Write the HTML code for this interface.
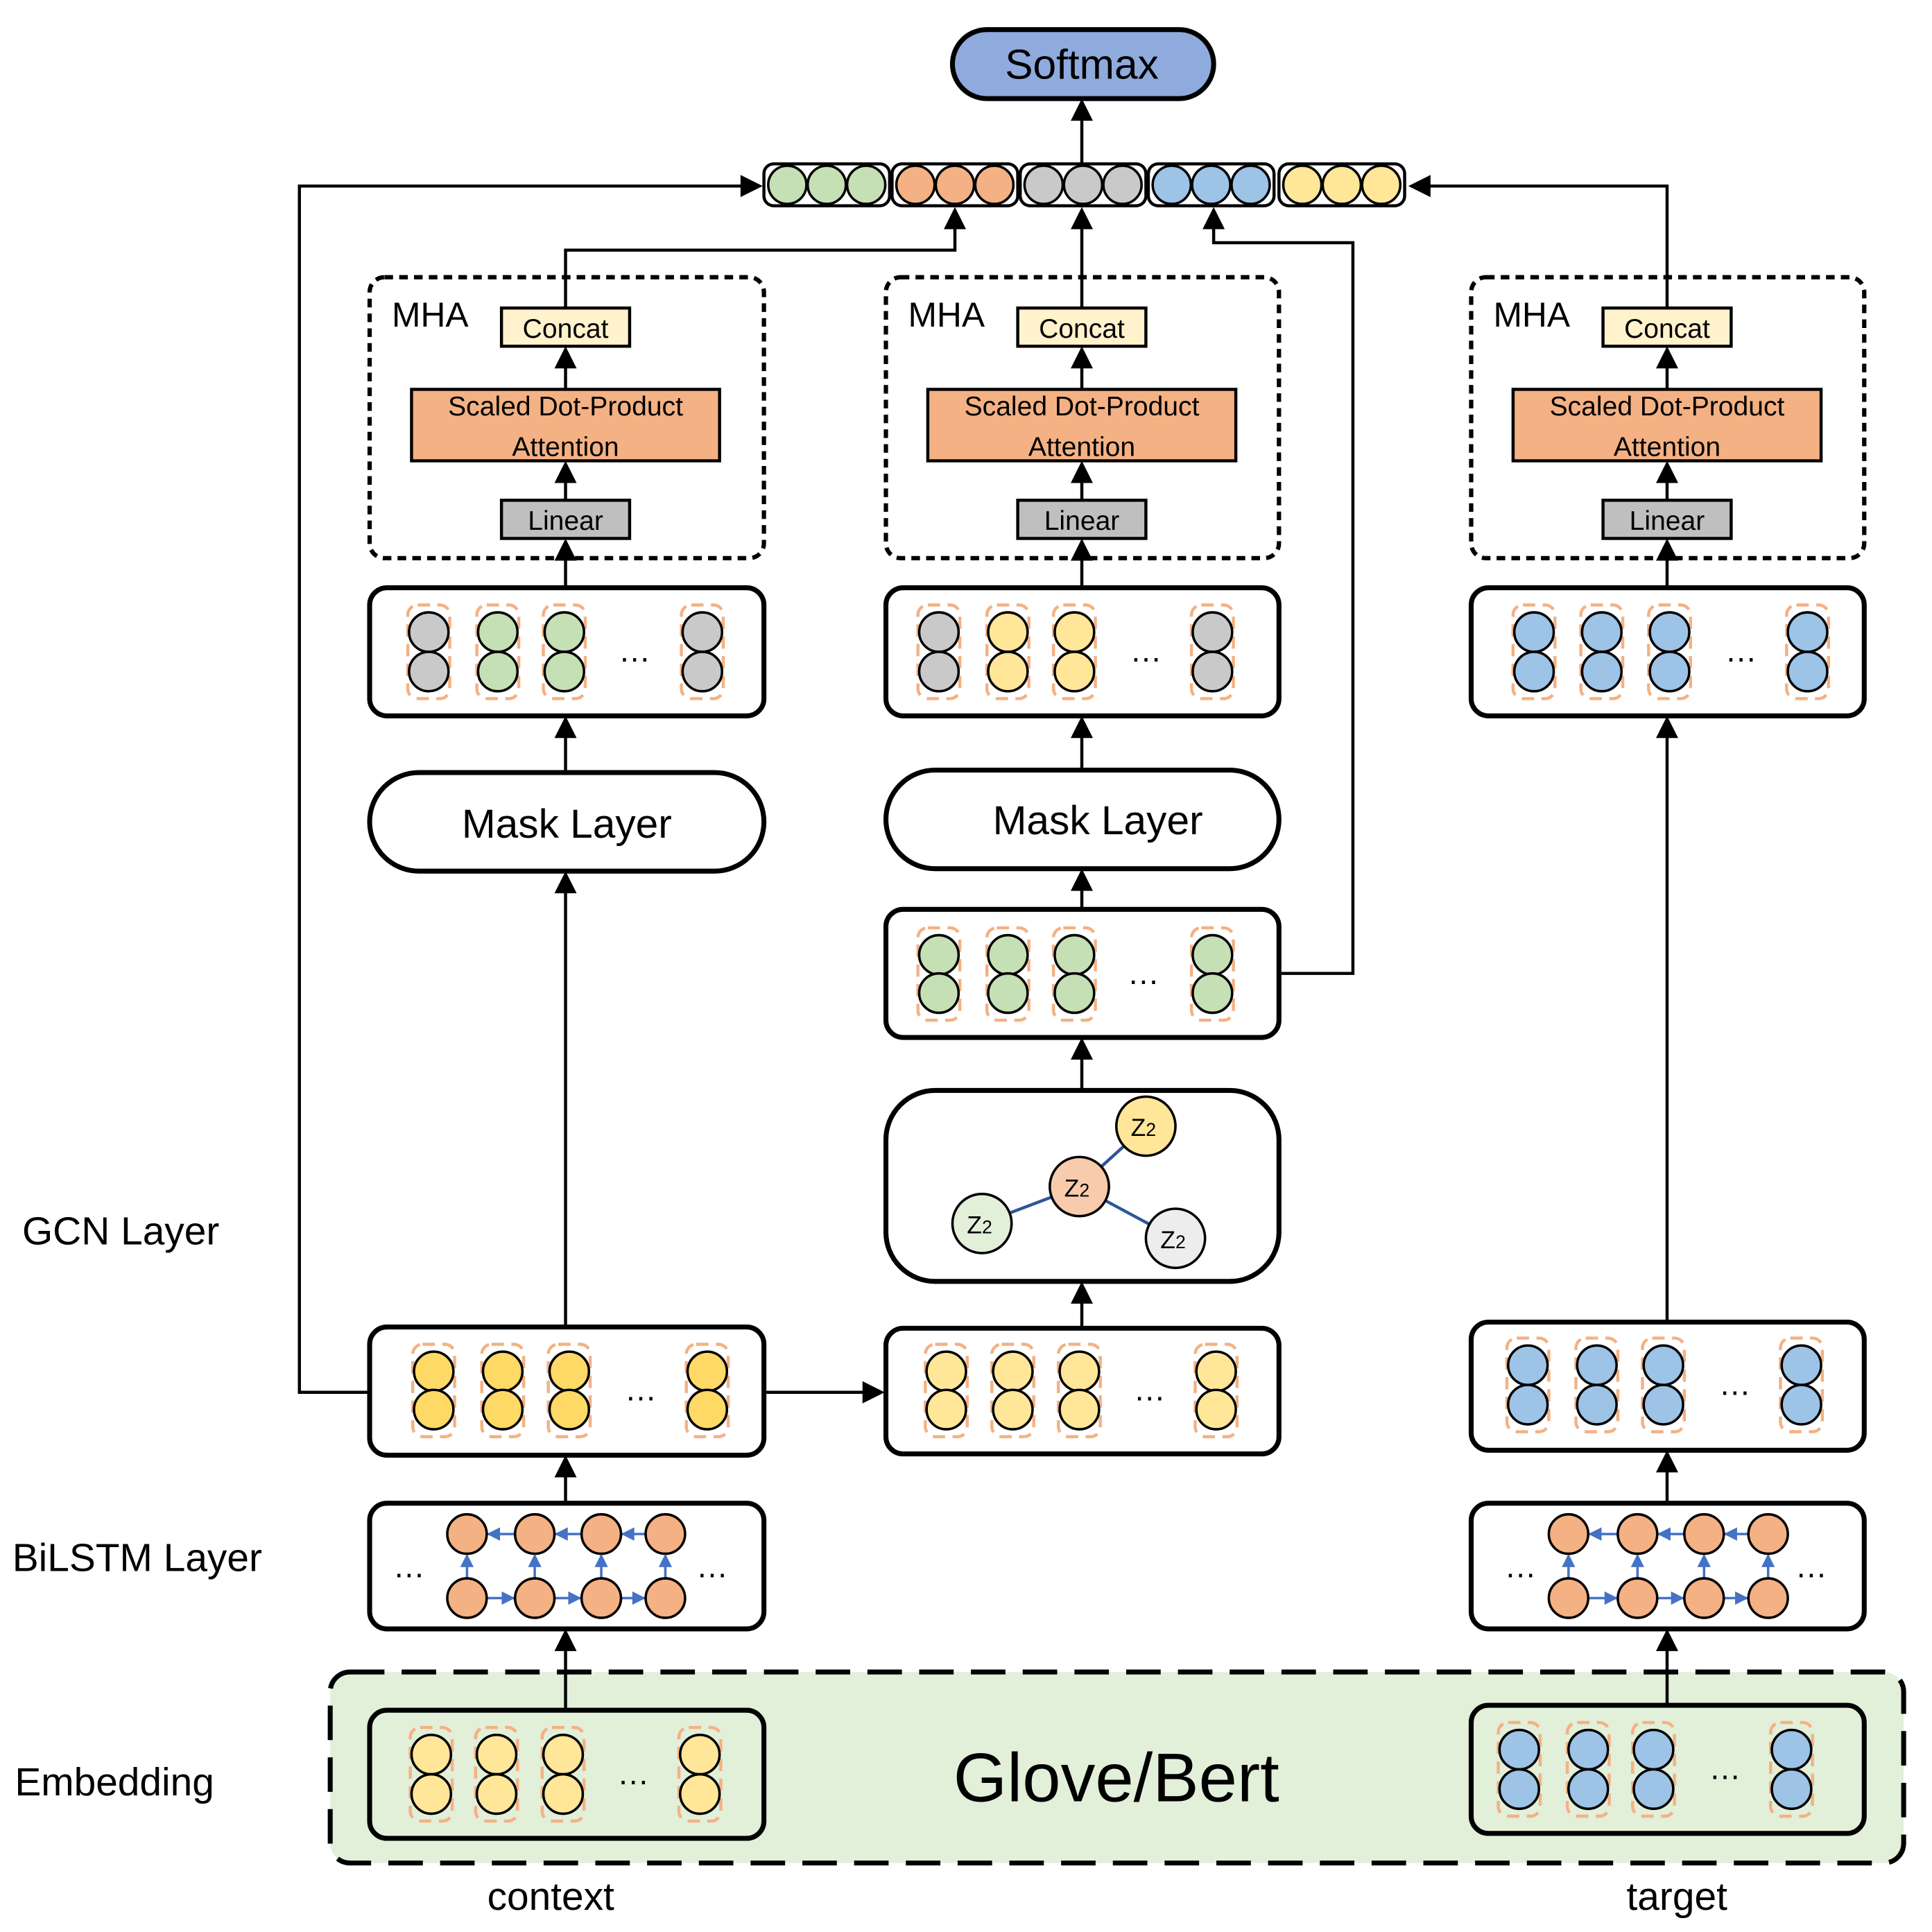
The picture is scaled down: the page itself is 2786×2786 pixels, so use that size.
<!DOCTYPE html>
<html><head><meta charset="utf-8"><style>
html,body{margin:0;padding:0;background:#fff}
svg{display:block}
text{font-family:"Liberation Sans",sans-serif;fill:#000}
</style></head><body>
<svg id="s" width="2786" height="2786" viewBox="0 0 1568 1568" xmlns="http://www.w3.org/2000/svg">
<!-- embedding dashed region -->
<rect x="268" y="1357" width="1277" height="155" rx="16" fill="#e2efd9" stroke="#000" stroke-width="4" stroke-dasharray="28 14"/>
<g id="g" fill="none" stroke="#000"></g>
<!-- texts -->
<text x="878" y="64" font-size="34" text-anchor="middle">Softmax</text>
<text x="318" y="265" font-size="28">MHA</text>
<text x="737" y="265" font-size="28">MHA</text>
<text x="1212" y="265" font-size="28">MHA</text>
<text x="459" y="274" font-size="22" text-anchor="middle">Concat</text>
<text x="878" y="274" font-size="22" text-anchor="middle">Concat</text>
<text x="1353" y="274" font-size="22" text-anchor="middle">Concat</text>
<text x="459" y="337" font-size="22" text-anchor="middle">Scaled Dot-Product</text>
<text x="459" y="370" font-size="22" text-anchor="middle">Attention</text>
<text x="878" y="337" font-size="22" text-anchor="middle">Scaled Dot-Product</text>
<text x="878" y="370" font-size="22" text-anchor="middle">Attention</text>
<text x="1353" y="337" font-size="22" text-anchor="middle">Scaled Dot-Product</text>
<text x="1353" y="370" font-size="22" text-anchor="middle">Attention</text>
<text x="459" y="430" font-size="22" text-anchor="middle">Linear</text>
<text x="878" y="430" font-size="22" text-anchor="middle">Linear</text>
<text x="1353" y="430" font-size="22" text-anchor="middle">Linear</text>
<text x="460" y="680" font-size="33" text-anchor="middle">Mask Layer</text>
<text x="891" y="677" font-size="33" text-anchor="middle">Mask Layer</text>
<text x="18" y="1010" font-size="32">GCN Layer</text>
<text x="10" y="1275" font-size="32">BiLSTM Layer</text>
<text x="12" y="1457" font-size="32">Embedding</text>
<text x="906" y="1462" font-size="56" text-anchor="middle">Glove/Bert</text>
<text x="447" y="1550" font-size="32" text-anchor="middle">context</text>
<text x="1361" y="1550" font-size="32" text-anchor="middle">target</text>
<g id="t"></g>
</svg>
<script>
const NS="http://www.w3.org/2000/svg",g=document.getElementById('g'),T=document.getElementById('t');
function el(tag,a,p){const e=document.createElementNS(NS,tag);for(const k in a)e.setAttribute(k,a[k]);(p||g).appendChild(e);return e;}
function line(pts,w){el('polyline',{points:pts.map(p=>p.join(',')).join(' '),'stroke-width':w||2.5,fill:'none',stroke:'#000'});}
function head(x,y,dir,c,s){s=s||1;c=c||'#000';let L=18*s,W=9*s,p;
 if(dir=='u')p=[[x,y],[x-W,y+L],[x+W,y+L]];else if(dir=='d')p=[[x,y],[x-W,y-L],[x+W,y-L]];
 else if(dir=='r')p=[[x,y],[x-L,y-W],[x-L,y+W]];else p=[[x,y],[x+L,y-W],[x+L,y+W]];
 el('polygon',{points:p.map(q=>q.join(',')).join(' '),fill:c,stroke:'none'});}
function arrowUp(x,y1,y2){line([[x,y1],[x,y2+16]]);head(x,y2,'u');}
function rr(x1,y1,x2,y2,rx,fill,sw,dash){const a={x:x1,y:y1,width:x2-x1,height:y2-y1,rx:rx,fill:fill||'#fff',stroke:'#000','stroke-width':sw||4};if(dash)a['stroke-dasharray']=dash;el('rect',a);}
const C={g:'#c5e0b4',o:'#f4b183',r:'#c9c9c9',b:'#9dc3e6',y:'#ffe699',Y:'#ffd966'};
function circ(x,y,r,f,sw){el('circle',{cx:x,cy:y,r:r,fill:f,stroke:'#000','stroke-width':sw||2});}
function dots(x,y){el('text',{x:x,y:y,'font-size':26,'text-anchor':'middle',stroke:'none',fill:'#000'},T).textContent='…';}
function pairs(xs,cols,y1,y2,dx){xs.forEach((x,i)=>{el('rect',{x:x-17,y:y1-22,width:34,height:y2-y1+44,rx:8,fill:'none',stroke:'#f4b183','stroke-width':2.5,'stroke-dasharray':'10 6'});circ(x,y1,16,C[cols[i]]);circ(x,y2,16,C[cols[i]]);});
 dots(dx,(y1+y2)/2+8);}
rr(773,24,985,80,28,'#8faadc',4);
arrowUp(878,133,80);
[['g',620],['o',724],['r',828],['b',932],['y',1038]].forEach(([c,x])=>{rr(x,133,x+102,167,8,'#fff',2.5);[19,51,83].forEach(d=>circ(x+d,150,15.5,C[c]));});
line([[300,1130],[243,1130],[243,151],[602,151]]);head(619,151,'r');
line([[1353,250],[1353,151],[1160,151]]);head(1143,151,'l');
line([[459,250],[459,203],[775,203],[775,184]]);head(775,168,'u');
line([[878,250],[878,184]]);head(878,168,'u');
line([[1040,790],[1098,790],[1098,197],[985,197],[985,184]]);head(985,168,'u');
[[300,620,459],[719,1038,878],[1194,1513,1353]].forEach(([a,b,c])=>{
 rr(a,225,b,453,12,'none',3.5,'7 5');
 rr(c-52,250,c+52,281,0,'#fff2cc',2.5);
 rr(c-125,316,c+125,374,0,'#f4b183',2.5);
 rr(c-52,406,c+52,437,0,'#bfbfbf',2.5);
 arrowUp(c,316,281);arrowUp(c,406,374);arrowUp(c,477,437);
 rr(a,477,b,581,14,'#fff',4);
});
pairs([348,404,458,570],['r','g','g','r'],513,545,515);
pairs([762,818,872,984],['r','y','y','r'],513,545,930);
pairs([1245,1300,1355,1467],['b','b','b','b'],513,545,1413);
arrowUp(459,627,581);rr(300,627,620,707,40,'#fff',4);arrowUp(459,1077,707);
arrowUp(878,625,581);rr(719,625,1038,705,40,'#fff',4);arrowUp(878,738,705);
rr(719,738,1038,842,14,'#fff',4);pairs([762,818,872,984],['g','g','g','g'],775,806,928);
arrowUp(878,885,842);rr(719,885,1038,1040,40,'#fff',4);
[[930,914],[797,993],[954,1005]].forEach(p=>el('line',{x1:876,y1:963,x2:p[0],y2:p[1],stroke:'#2f5597','stroke-width':2.5}));
[[930,914,'#ffe699'],[876,963,'#f8cbad'],[797,993,'#e2efd9'],[954,1005,'#ededed']].forEach(([x,y,f])=>{circ(x,y,24,f,2);
 const t=el('text',{x:x-2,y:y+8,'font-size':20,'text-anchor':'middle',stroke:'none',fill:'#000'},T);t.textContent='Z';const s=el('tspan',{'font-size':15},t);s.textContent='2';});
arrowUp(878,1078,1040);
arrowUp(1353,1073,581);
rr(300,1077,620,1181,14,'#fff',4);
line([[620,1130],[702,1130]]);head(718,1130,'r');
rr(719,1078,1038,1180,14,'#fff',4);
rr(1194,1073,1513,1177,14,'#fff',4);
pairs([352,408,462,574],['Y','Y','Y','Y'],1113,1144,520);
pairs([768,822,876,987],['y','y','y','y'],1113,1144,933);
pairs([1240,1296,1350,1462],['b','b','b','b'],1108,1140,1408);
arrowUp(459,1220,1181);arrowUp(1353,1220,1177);
[[300,620,[379,434,488,540],332,578],[1194,1513,[1273,1329,1383,1435],1234,1470]].forEach(([a,b,xs,d1,d2])=>{
 rr(a,1220,b,1322,14,'#fff',4);
 for(let i=0;i<3;i++){
  el('line',{x1:xs[i]+16,y1:1297,x2:xs[i+1]-14,y2:1297,stroke:'#4472c4','stroke-width':2});head(xs[i+1]-16,1297,'r','#4472c4',0.6);
  el('line',{x1:xs[i+1]-16,y1:1245,x2:xs[i]+14,y2:1245,stroke:'#4472c4','stroke-width':2});head(xs[i]+16,1245,'l','#4472c4',0.6);}
 xs.forEach(x=>{el('line',{x1:x,y1:1281,x2:x,y2:1263,stroke:'#4472c4','stroke-width':2});head(x,1261,'u','#4472c4',0.6);});
 xs.forEach(x=>{circ(x,1245,16,C.o);circ(x,1297,16,C.o);});
 dots(d1,1280);dots(d2,1280);
});
arrowUp(459,1388,1322);arrowUp(1353,1384,1322);
rr(300,1388,620,1492,14,'#e2efd9',4);pairs([350,403,457,568],['y','y','y','y'],1424,1456,514);
rr(1194,1384,1513,1488,14,'#e2efd9',4);pairs([1233,1289,1342,1454],['b','b','b','b'],1420,1452,1400);
</script>
</body></html>
